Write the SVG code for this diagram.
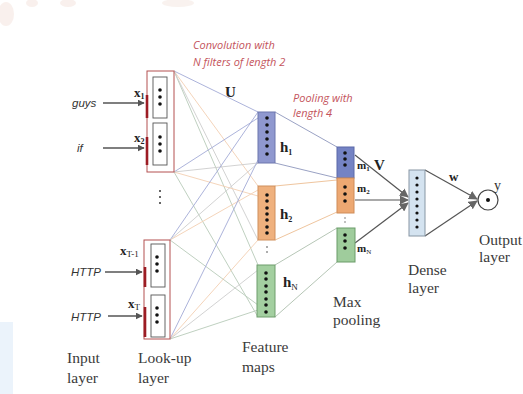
<svg xmlns="http://www.w3.org/2000/svg" width="523" height="394" viewBox="0 0 523 394">
<defs>
<marker id="ah" viewBox="0 0 10 10" refX="9" refY="5" markerWidth="7" markerHeight="7" orient="auto" markerUnits="userSpaceOnUse"><path d="M0,0 L10,5 L0,10 z" fill="#555"/></marker>
<marker id="ah2" viewBox="0 0 10 10" refX="9" refY="5" markerWidth="9" markerHeight="9" orient="auto" markerUnits="userSpaceOnUse"><path d="M0,0 L10,5 L0,10 z" fill="#666"/></marker>
<style>
.lbl{font-family:"Liberation Serif",serif;font-size:15.5px;fill:#3a3a3a}
.word{font-family:"Liberation Sans",sans-serif;font-style:italic;font-size:11.5px;fill:#333}
.note{font-family:"Open Sans","Liberation Sans",sans-serif;font-style:italic;font-size:11px;fill:#c4545c}
.math{font-family:"Liberation Serif",serif;font-weight:bold;fill:#222}
.outer{fill:#fff;stroke:#b45050;stroke-width:1}
.inner{fill:#fff;stroke:#555;stroke-width:0.9}
.bar{stroke:#9c1c24;stroke-width:2.6}
.dot{fill:#111}
.arr{stroke:#555;stroke-width:1.6;fill:none;marker-end:url(#ah)}
.cb{stroke:#a3aad6;stroke-width:0.9;fill:none}
.co{stroke:#f3cfb2;stroke-width:0.9;fill:none}
.cg{stroke:#b8cbb9;stroke-width:0.9;fill:none}
.cgr{stroke:#cdcdcd;stroke-width:0.9;fill:none}
.pb{stroke:#9aa2c4;stroke-width:1;fill:none}
.po{stroke:#efc59e;stroke-width:1;fill:none}
.pg{stroke:#b6c6b6;stroke-width:1;fill:none}
.dn{stroke:#555;stroke-width:1.2;fill:none;marker-end:url(#ah2)}
</style>
</defs>
<rect width="523" height="394" fill="#fff"/>
<g id="background" opacity="0.35">
<ellipse cx="6" cy="14" rx="8" ry="12" fill="#f0d6cc"/>
<ellipse cx="32" cy="3" rx="6" ry="4" fill="#f0d6cc"/>
<ellipse cx="68" cy="3" rx="8" ry="4" fill="#f0d6cc"/>
<ellipse cx="178" cy="3" rx="16" ry="4" fill="#eedcd2"/>
<rect x="0" y="322" width="13" height="72" fill="#c6dcf4"/>
</g>

<g id="connectors">
<line class="cb" x1="174" y1="71" x2="258" y2="112"/>
<line class="co" x1="174" y1="71" x2="258" y2="186"/>
<line class="cg" x1="174" y1="71" x2="258" y2="265"/>
<line class="cgr" x1="174" y1="71" x2="258" y2="240"/>
<line class="cb" x1="174" y1="172" x2="258" y2="118"/>
<line class="co" x1="174" y1="172" x2="258" y2="196"/>
<line class="cg" x1="174" y1="172" x2="258" y2="317"/>
<line class="cgr" x1="174" y1="172" x2="258" y2="163"/>
<line class="cb" x1="170" y1="240" x2="258" y2="112"/>
<line class="co" x1="170" y1="240" x2="258" y2="190"/>
<line class="cg" x1="170" y1="240" x2="258" y2="305"/>
<line class="cgr" x1="170" y1="240" x2="258" y2="163"/>
<line class="cb" x1="170" y1="339" x2="258" y2="160"/>
<line class="co" x1="170" y1="339" x2="258" y2="240"/>
<line class="cg" x1="170" y1="339" x2="258" y2="310"/>
<line class="cgr" x1="170" y1="339" x2="258" y2="270"/>
<line class="pb" x1="275" y1="112" x2="337" y2="147"/>
<line class="pb" x1="275" y1="163" x2="337" y2="178"/>
<line class="po" x1="275" y1="186" x2="337" y2="180"/>
<line class="po" x1="275" y1="240" x2="337" y2="212"/>
<line class="pg" x1="275" y1="265" x2="337" y2="228"/>
<line class="pg" x1="275" y1="317" x2="337" y2="262"/>
<line class="arr" x1="103" y1="103" x2="144" y2="103"/>
<line class="arr" x1="103" y1="148" x2="144" y2="148"/>
<line class="arr" x1="105" y1="272" x2="142" y2="272"/>
<line class="arr" x1="108" y1="316" x2="142" y2="316"/>
<line class="dn" x1="355" y1="155" x2="408" y2="197"/>
<line class="dn" x1="355" y1="200" x2="408" y2="200"/>
<line class="dn" x1="355" y1="243" x2="408" y2="203"/>
<line stroke="#555" stroke-width="1.2" x1="425" y1="170" x2="477" y2="199" marker-end="url(#ah2)"/>
<line stroke="#555" stroke-width="1.2" x1="425" y1="236" x2="477" y2="201" marker-end="url(#ah2)"/>
</g>

<g id="input-words">
<text class="word" x="72" y="107">guys</text>
<text class="word" x="77" y="152">if</text>
<text class="word" x="71" y="276">HTTP</text>
<text class="word" x="71" y="321">HTTP</text>
</g>

<g id="lookup-top">
<rect class="outer" x="147" y="71" width="27" height="101"/>
<rect class="inner" x="153" y="77" width="14" height="41"/>
<rect class="inner" x="153" y="123" width="14" height="42"/>
<line class="bar" x1="147" y1="95" x2="147" y2="118"/>
<line class="bar" x1="147" y1="137" x2="147" y2="165"/>
<circle class="dot" cx="160" cy="90" r="1.8"/><circle class="dot" cx="160" cy="97" r="1.8"/><circle class="dot" cx="160" cy="104" r="1.8"/>
<circle class="dot" cx="160" cy="137" r="1.8"/><circle class="dot" cx="160" cy="144" r="1.8"/><circle class="dot" cx="160" cy="151" r="1.8"/>
<text class="math" x="134" y="97" font-size="13">x<tspan font-size="8" dy="2">1</tspan></text>
<text class="math" x="134" y="142" font-size="13">x<tspan font-size="8" dy="2">2</tspan></text>
</g>

<g id="lookup-dots">
<circle fill="#333" cx="160" cy="191" r="1"/>
<circle fill="#333" cx="160" cy="197" r="1"/>
<circle fill="#333" cx="160" cy="203" r="1"/>
</g>

<g id="lookup-bottom">
<rect class="outer" x="144" y="240" width="26" height="99"/>
<rect class="inner" x="151" y="244" width="14" height="43"/>
<rect class="inner" x="151" y="295" width="14" height="42"/>
<line class="bar" x1="145" y1="267" x2="145" y2="287"/>
<line class="bar" x1="145" y1="307" x2="145" y2="337"/>
<circle class="dot" cx="157" cy="257" r="1.8"/><circle class="dot" cx="157" cy="264" r="1.8"/><circle class="dot" cx="157" cy="271" r="1.8"/>
<circle class="dot" cx="157" cy="308" r="1.8"/><circle class="dot" cx="157" cy="315" r="1.8"/><circle class="dot" cx="157" cy="322" r="1.8"/>
<text class="math" x="120" y="255" font-size="13">x<tspan font-size="9" dy="2" font-weight="normal">T-1</tspan></text>
<text class="math" x="128" y="308" font-size="13">x<tspan font-size="9" dy="2" font-weight="normal">T</tspan></text>
</g>

<g id="h1">
<rect x="258" y="112" width="17" height="51" fill="#8f98cf" stroke="#6d77ad" stroke-width="1"/>
<circle class="dot" cx="267" cy="118" r="1.8"/><circle class="dot" cx="267" cy="125" r="1.8"/><circle class="dot" cx="267" cy="132" r="1.8"/><circle class="dot" cx="267" cy="139" r="1.8"/><circle class="dot" cx="267" cy="146" r="1.8"/><circle class="dot" cx="267" cy="154" r="1.8"/>
<text class="math" x="280" y="152" font-size="15">h<tspan font-size="8" dy="3">1</tspan></text>
</g>

<g id="h2">
<rect x="258" y="186" width="17" height="54" fill="#efb17e" stroke="#d08f5c" stroke-width="1"/>
<circle class="dot" cx="267" cy="195" r="1.8"/><circle class="dot" cx="267" cy="201" r="1.8"/><circle class="dot" cx="267" cy="208" r="1.8"/><circle class="dot" cx="267" cy="214" r="1.8"/><circle class="dot" cx="267" cy="220" r="1.8"/><circle class="dot" cx="267" cy="227" r="1.8"/><circle class="dot" cx="267" cy="233" r="1.8"/>
<text class="math" x="280" y="219" font-size="15">h<tspan font-size="8" dy="3">2</tspan></text>
</g>

<g id="h-dots">
<circle fill="#444" cx="267" cy="247" r="0.8"/><circle fill="#444" cx="267" cy="252" r="0.8"/>
</g>

<g id="hN">
<rect x="257" y="265" width="18" height="52" fill="#a3cfa0" stroke="#6e9d6c" stroke-width="1"/>
<circle class="dot" cx="266" cy="273" r="1.8"/><circle class="dot" cx="266" cy="279" r="1.8"/><circle class="dot" cx="266" cy="286" r="1.8"/><circle class="dot" cx="266" cy="292" r="1.8"/><circle class="dot" cx="266" cy="299" r="1.8"/><circle class="dot" cx="266" cy="305" r="1.8"/><circle class="dot" cx="266" cy="312" r="1.8"/>
<text class="math" x="283" y="287" font-size="15">h<tspan font-size="9" dy="3" font-weight="normal">N</tspan></text>
</g>

<g id="m1">
<rect x="337" y="147" width="17" height="31" fill="#7483c4" stroke="#5a68a8" stroke-width="1"/>
<circle class="dot" cx="345" cy="153" r="1.8"/><circle class="dot" cx="345" cy="159" r="1.8"/><circle class="dot" cx="345" cy="165" r="1.8"/>
<text class="math" x="357" y="169" font-size="11">m<tspan font-size="7" dy="2">1</tspan></text>
</g>

<g id="m2">
<rect x="337" y="178" width="17" height="35" fill="#eda872" stroke="#cf8c58" stroke-width="1"/>
<circle class="dot" cx="345" cy="187" r="1.8"/><circle class="dot" cx="345" cy="194" r="1.8"/><circle class="dot" cx="345" cy="201" r="1.8"/>
<text class="math" x="357" y="192" font-size="11">m<tspan font-size="7" dy="2">2</tspan></text>
</g>

<g id="m-dots">
<circle fill="#555" cx="345" cy="218" r="0.7"/><circle fill="#555" cx="345" cy="222" r="0.7"/>
</g>

<g id="mN">
<rect x="337" y="228" width="18" height="34" fill="#9fcc9c" stroke="#6a9c68" stroke-width="1"/>
<circle class="dot" cx="345" cy="235" r="1.8"/><circle class="dot" cx="345" cy="241" r="1.8"/><circle class="dot" cx="345" cy="248" r="1.8"/>
<text class="math" x="357" y="252" font-size="11">m<tspan font-size="7" dy="2" font-weight="normal">N</tspan></text>
</g>

<g id="dense">
<rect x="409" y="170" width="16" height="66" fill="#d4e3f0" stroke="#8796a4" stroke-width="1"/>
<circle class="dot" cx="417" cy="178" r="1.6"/><circle class="dot" cx="417" cy="185" r="1.6"/><circle class="dot" cx="417" cy="192" r="1.6"/><circle class="dot" cx="417" cy="199" r="1.6"/><circle class="dot" cx="417" cy="206" r="1.6"/><circle class="dot" cx="417" cy="213" r="1.6"/><circle class="dot" cx="417" cy="220" r="1.6"/><circle class="dot" cx="417" cy="227" r="1.6"/>
</g>

<g id="output">
<circle cx="488" cy="200" r="10" fill="#fff" stroke="#444" stroke-width="1.2"/>
<circle class="dot" cx="488" cy="200" r="2"/>
<text x="494" y="190" font-family="Liberation Serif,serif" font-size="14" fill="#333">y</text>
</g>

<g id="math-labels">
<text class="math" x="225" y="97" font-size="15">U</text>
<text class="math" x="374" y="170" font-size="15">V</text>
<text class="math" x="449" y="181" font-size="13">w</text>
</g>

<g id="notes">
<text class="note" x="193" y="49">Convolution with</text>
<text class="note" x="193" y="66">N filters of length 2</text>
<text class="note" x="293" y="102">Pooling with</text>
<text class="note" x="293" y="117">length 4</text>
</g>

<g id="layer-labels">
<text class="lbl" x="67" y="363">Input</text>
<text class="lbl" x="67" y="383">layer</text>
<text class="lbl" x="138" y="363">Look-up</text>
<text class="lbl" x="138" y="383">layer</text>
<text class="lbl" x="242" y="352">Feature</text>
<text class="lbl" x="242" y="372">maps</text>
<text class="lbl" x="333" y="307">Max</text>
<text class="lbl" x="333" y="325">pooling</text>
<text class="lbl" x="408" y="275">Dense</text>
<text class="lbl" x="408" y="293">layer</text>
<text class="lbl" x="479" y="245" font-size="15">Output</text>
<text class="lbl" x="479" y="262" font-size="15">layer</text>
</g>
</svg>
